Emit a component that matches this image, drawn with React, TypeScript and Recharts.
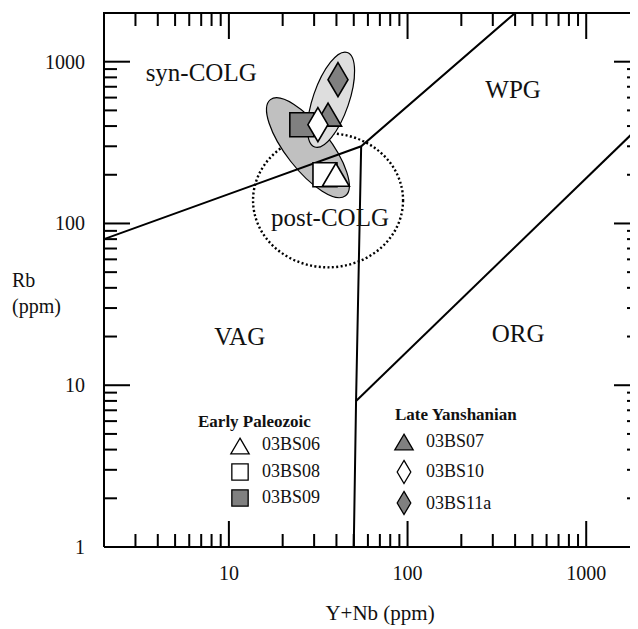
import React from "react";
import { ScatterChart, Scatter, XAxis, YAxis } from "recharts";

const FONT = "'Times New Roman', 'Liberation Serif', serif";

// axis ticks (log scale)
const X_TICKS = [2, 3, 4, 5, 6, 7, 8, 9, 10, 20, 30, 40, 50, 60, 70, 80, 90, 100, 200, 300, 400, 500, 600, 700, 800, 900, 1000, 2000];
const Y_TICKS = [1, 2, 3, 4, 5, 6, 7, 8, 9, 10, 20, 30, 40, 50, 60, 70, 80, 90, 100, 200, 300, 400, 500, 600, 700, 800, 900, 1000, 2000];
const X_LABELS = [10, 100, 1000];
const Y_LABELS = [1, 10, 100, 1000];
const X_MIN = 2;
const X_MAX = 2000;
const Y_MIN = 1;
const Y_MAX = 2000;

// Pearce et al. field boundaries
const BOUNDARY_SYN = [
  { x: 2, y: 80 },
  { x: 55, y: 300 },
  { x: 400, y: 2000 },
];
const BOUNDARY_VAG = [
  { x: 55, y: 300 },
  { x: 51.5, y: 8 },
  { x: 50, y: 1 },
];
const BOUNDARY_ORG = [
  { x: 51.5, y: 8 },
  { x: 2000, y: 400 },
];

const REGION_LABELS = [
  { x: 7, y: 855, label: "syn-COLG" },
  { x: 390, y: 672, label: "WPG" },
  { x: 36.8, y: 109, label: "post-COLG" },
  { x: 11.5, y: 20, label: "VAG" },
  { x: 416, y: 21, label: "ORG" },
];

// fields: post-COLG circle and sample groups
const POST_COLG = [{ x: 35.9, y: 139 }];
const FIELD_PALEOZOIC = [{ x: 27.7, y: 294 }];
const FIELD_YANSHANIAN = [{ x: 37.3, y: 582 }];

// samples
const S_03BS09 = [{ x: 25.6, y: 408 }];
const S_03BS08 = [{ x: 34.5, y: 200 }];
const S_03BS06 = [{ x: 39.7, y: 200 }];
const S_03BS07 = [{ x: 35.9, y: 471 }];
const S_03BS11a = [{ x: 40.8, y: 774 }];
const S_03BS10 = [{ x: 31.5, y: 408 }];

const GRAY = "#808080";
const MAJOR = [10, 100, 1000];

const W = 650;
const H = 621;
const MARGIN = { top: 5, right: 18, bottom: 0, left: 0 };
const Y_AXIS_W = 96;
const X_AXIS_H = 82;
const PLOT_L = MARGIN.left + Y_AXIS_W;
const PLOT_T = MARGIN.top;
const PLOT_W = W - MARGIN.right - PLOT_L;
const PLOT_H = H - MARGIN.top - X_AXIS_H;

const FRAME = [
  { x: X_MIN, y: Y_MIN },
  { x: X_MAX, y: Y_MIN },
  { x: X_MAX, y: Y_MAX },
  { x: X_MIN, y: Y_MAX },
  { x: X_MIN, y: Y_MIN },
];

function markerPath(kind: string, cx: number, cy: number, s: number) {
  if (kind === "triangle") {
    const w = 27 * s;
    const h = 23 * s;
    return `M${cx},${cy - h / 2} L${cx + w / 2},${cy + h / 2} L${cx - w / 2},${cy + h / 2} Z`;
  }
  if (kind === "square") {
    const w = 24 * s;
    return `M${cx - w / 2},${cy - w / 2} h${w} v${w} h${-w} Z`;
  }
  const w = 20 * s;
  const h = 34 * s;
  return `M${cx},${cy - h / 2} L${cx + w / 2},${cy} L${cx},${cy + h / 2} L${cx - w / 2},${cy} Z`;
}

function marker(kind: string, fill: string) {
  return (props: any) => (
    <path d={markerPath(kind, props.cx, props.cy, 1)} fill={fill} stroke="#000" strokeWidth={1.6} />
  );
}

function ellipse(rx: number, ry: number, angle: number, fill: string, dotted = false) {
  return (props: any) => (
    <ellipse
      cx={props.cx}
      cy={props.cy}
      rx={rx}
      ry={ry}
      transform={`rotate(${angle} ${props.cx} ${props.cy})`}
      fill={fill}
      stroke="#000"
      strokeWidth={dotted ? 2.4 : 1.2}
      strokeDasharray={dotted ? "2 2.4" : undefined}
    />
  );
}

function regionLabel(props: any) {
  return (
    <text x={props.cx} y={props.cy} textAnchor="middle" dominantBaseline="central" fontFamily={FONT} fontSize={25} fill="#111">
      {props.payload.label}
    </text>
  );
}

function bottomTick(props: any) {
  const { x, y, payload } = props;
  if (!X_LABELS.includes(payload.value)) return <g />;
  return (
    <text x={x} y={y + 33} textAnchor="middle" fontFamily={FONT} fontSize={20} fill="#111">
      {payload.value}
    </text>
  );
}

function leftTick(props: any) {
  const { x, y, payload } = props;
  if (!Y_LABELS.includes(payload.value)) return <g />;
  return (
    <text x={x - 19} y={y + 7} textAnchor="end" fontFamily={FONT} fontSize={20} fill="#111">
      {payload.value}
    </text>
  );
}

// inward tick marks on all four sides (same log mapping as the chart's plot box)
const px = (v: number) => PLOT_L + (Math.log10(v / X_MIN) / Math.log10(X_MAX / X_MIN)) * PLOT_W;
const py = (v: number) => PLOT_T + PLOT_H - (Math.log10(v / Y_MIN) / Math.log10(Y_MAX / Y_MIN)) * PLOT_H;
const tickLen = (v: number) => (MAJOR.includes(v) ? 26 : 13);

function TickMarks() {
  const bottom = PLOT_T + PLOT_H;
  const right = PLOT_L + PLOT_W;
  return (
    <g fill="#000">
      {X_TICKS.map((v) => (
        <g key={`x${v}`}>
          <rect x={px(v) - 1} y={bottom - tickLen(v)} width={2} height={tickLen(v)} />
          <rect x={px(v) - 1} y={PLOT_T} width={2} height={tickLen(v)} />
        </g>
      ))}
      {Y_TICKS.map((v) => (
        <g key={`y${v}`}>
          <rect x={PLOT_L} y={py(v) - 1} width={tickLen(v)} height={2} />
          <rect x={right - tickLen(v)} y={py(v) - 1} width={tickLen(v)} height={2} />
        </g>
      ))}
    </g>
  );
}

function Overlay() {
  const item = (kind: string, fill: string, cx: number, cy: number, text: string, tx: number, ty: number) => (
    <g key={text}>
      <path d={markerPath(kind, cx, cy, 0.68)} fill={fill} stroke="#000" strokeWidth={1.3} />
      <text x={tx} y={ty} fontFamily={FONT} fontSize={18} fill="#111">
        {text}
      </text>
    </g>
  );
  return (
    <svg width={630} height={621} style={{ position: "absolute", left: 0, top: 0, pointerEvents: "none" }}>
      <TickMarks />
      <text x={190} y={419} fontFamily={FONT} fontSize={17} fontWeight="bold" fill="#111">
        Early Paleozoic
      </text>
      {item("triangle", "#fff", 232, 438, "03BS06", 254, 442)}
      {item("square", "#fff", 232, 464, "03BS08", 254, 469)}
      {item("square", GRAY, 232, 490, "03BS09", 254, 495)}
      <text x={387} y={412} fontFamily={FONT} fontSize={17} fontWeight="bold" fill="#111">
        Late Yanshanian
      </text>
      {item("triangle", GRAY, 396, 434, "03BS07", 418, 439)}
      {item("diamond", "#fff", 396, 464, "03BS10", 418, 469)}
      {item("diamond", GRAY, 396, 495, "03BS11a", 418, 501)}
      <text x={4} y={279} fontFamily={FONT} fontSize={20} fill="#111">
        Rb
      </text>
      <text x={4} y={305} fontFamily={FONT} fontSize={20} fill="#111">
        (ppm)
      </text>
      <text x={372} y={612} textAnchor="middle" fontFamily={FONT} fontSize={21} fill="#111">
        Y+Nb (ppm)
      </text>
    </svg>
  );
}

const noDot = () => <g />;
const lineStyle = { stroke: "#000", strokeWidth: 2 };

export default function App() {
  return (
    <div style={{ position: "relative", width: 630, height: 621, overflow: "hidden", background: "#fff" }}>
      <ScatterChart width={W} height={H} margin={MARGIN}>
        <XAxis
          dataKey="x"
          type="number"
          scale="log"
          domain={[X_MIN, X_MAX]}
          ticks={X_TICKS}
          interval={0}
          height={X_AXIS_H}
          tickSize={0}
          tickMargin={0}
          tickLine={false}
          axisLine={false}
          tick={bottomTick}
        />
        <YAxis
          dataKey="y"
          type="number"
          scale="log"
          domain={[Y_MIN, Y_MAX]}
          ticks={Y_TICKS}
          interval={0}
          width={Y_AXIS_W}
          tickSize={0}
          tickMargin={0}
          tickLine={false}
          axisLine={false}
          tick={leftTick}
        />

        <Scatter data={POST_COLG} shape={ellipse(75, 67, 0, "none", true)} isAnimationActive={false} />
        <Scatter data={FIELD_PALEOZOIC} shape={ellipse(61, 22, 52, "#c0c0c0")} isAnimationActive={false} />
        <Scatter data={FIELD_YANSHANIAN} shape={ellipse(50, 18, -71, "#dedede")} isAnimationActive={false} />

        <Scatter data={BOUNDARY_SYN} line={lineStyle} lineType="joint" shape={noDot} isAnimationActive={false} />
        <Scatter data={BOUNDARY_VAG} line={lineStyle} lineType="joint" shape={noDot} isAnimationActive={false} />
        <Scatter data={BOUNDARY_ORG} line={lineStyle} lineType="joint" shape={noDot} isAnimationActive={false} />
        <Scatter data={FRAME} line={lineStyle} lineType="joint" shape={noDot} isAnimationActive={false} />

        <Scatter name="03BS09" data={S_03BS09} shape={marker("square", GRAY)} isAnimationActive={false} />
        <Scatter name="03BS08" data={S_03BS08} shape={marker("square", "#fff")} isAnimationActive={false} />
        <Scatter name="03BS06" data={S_03BS06} shape={marker("triangle", "#fff")} isAnimationActive={false} />
        <Scatter name="03BS07" data={S_03BS07} shape={marker("triangle", GRAY)} isAnimationActive={false} />
        <Scatter name="03BS11a" data={S_03BS11a} shape={marker("diamond", GRAY)} isAnimationActive={false} />
        <Scatter name="03BS10" data={S_03BS10} shape={marker("diamond", "#fff")} isAnimationActive={false} />

        <Scatter data={REGION_LABELS} shape={regionLabel} isAnimationActive={false} />
      </ScatterChart>
      <Overlay />
    </div>
  );
}
